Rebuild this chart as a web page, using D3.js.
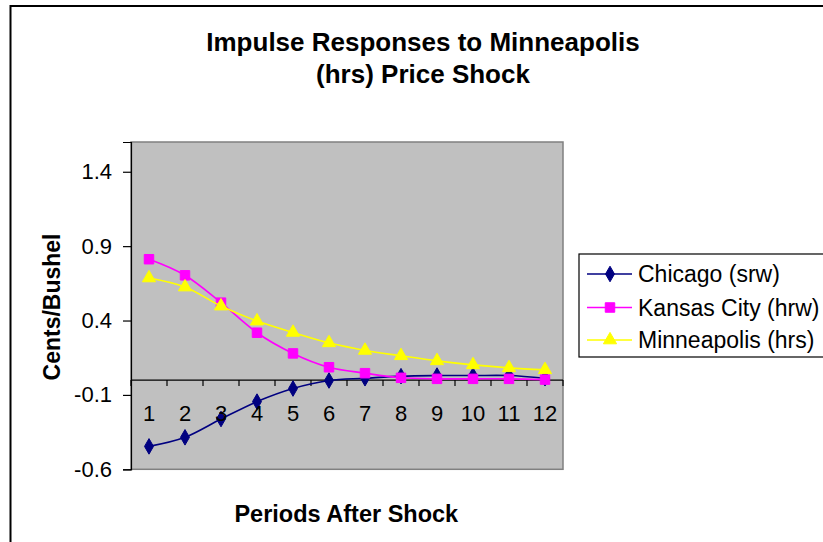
<!DOCTYPE html>
<html>
<head>
<meta charset="utf-8">
<script src="https://cdn.jsdelivr.net/npm/d3@7"></script>
<style>
  html, body { margin: 0; padding: 0; background: #ffffff; }
  svg { display: block; font-family: Arial, "Liberation Sans", sans-serif; }
</style>
</head>
<body>
<svg id="chart" width="823" height="542"></svg>
<script>
// ---- data ----
const periods = [1, 2, 3, 4, 5, 6, 7, 8, 9, 10, 11, 12];
const chicago = [-0.446, -0.385, -0.262, -0.145, -0.057, -0.003, 0.012, 0.026, 0.030, 0.030, 0.030, 0.012];
const kansasCity = [0.812, 0.704, 0.520, 0.318, 0.179, 0.086, 0.046, 0.015, 0.008, 0.008, 0.008, 0.003];
const minneapolis = [0.686, 0.625, 0.497, 0.396, 0.320, 0.250, 0.199, 0.163, 0.129, 0.102, 0.082, 0.069];
const yTicks = [-0.6, -0.1, 0.4, 0.9, 1.4];
const seriesNames = ["Chicago (srw)", "Kansas City (hrw)", "Minneapolis (hrs)"];
const titleLines = ["Impulse Responses to Minneapolis", "(hrs) Price Shock"];
const xTitle = "Periods After Shock";
const yTitle = "Cents/Bushel";

const series = [
  { name: seriesNames[0], values: chicago, color: "#000080", symbol: d3.symbolDiamond, size: 70 },
  { name: seriesNames[1], values: kansasCity, color: "#FF00FF", symbol: d3.symbolSquare, size: 90 },
  { name: seriesNames[2], values: minneapolis, color: "#FFFF00", symbol: d3.symbolTriangle, size: 75 }
];

const svg = d3.select("#chart");

// outer chart border
svg.append("rect").attr("x", 10.5).attr("y", 6).attr("width", 830).attr("height", 560)
  .attr("fill", "#fff").attr("stroke", "#000").attr("stroke-width", 2);

const plot = { left: 131, right: 563, top: 142, bottom: 469.3 };

const x = d3.scaleBand().domain(periods).range([plot.left, plot.right]).paddingInner(0).paddingOuter(0);
const y = d3.scaleLinear().domain([-0.6, 1.6]).range([plot.bottom, plot.top]);

// plot area
svg.append("rect").attr("x", plot.left).attr("y", plot.top)
  .attr("width", plot.right - plot.left).attr("height", plot.bottom - plot.top)
  .attr("fill", "#C0C0C0").attr("stroke", "#808080").attr("stroke-width", 1.5);

// y axis
const yAxis = d3.axisLeft(y).tickValues(yTicks).tickSize(8).tickPadding(11)
  .tickFormat(d => d3.format(".1f")(d).replace("−", "-"));
const gy = svg.append("g").attr("transform", `translate(${plot.left},0)`).call(yAxis);
gy.select(".domain").attr("stroke", "#000").attr("stroke-width", 1.2);
gy.selectAll(".tick line").attr("stroke", "#000").attr("stroke-width", 1.2);
gy.selectAll(".tick text").attr("font-size", "22px").attr("fill", "#000")
  .attr("font-family", "Arial, 'Liberation Sans', sans-serif");

// x axis line at y=0 with boundary ticks
const y0 = y(0);
const gx = svg.append("g");
gx.append("line").attr("x1", plot.left).attr("x2", plot.right).attr("y1", y0).attr("y2", y0)
  .attr("stroke", "#000").attr("stroke-width", 1.2);
const bounds = periods.map(p => x(p)).concat([x(periods[periods.length - 1]) + x.bandwidth()]);
gx.selectAll("line.tk").data(bounds).enter().append("line").attr("class", "tk")
  .attr("x1", d => d).attr("x2", d => d).attr("y1", y0).attr("y2", y0 + 6)
  .attr("stroke", "#000").attr("stroke-width", 1.2);

// lines and markers
const cx = p => x(p) + x.bandwidth() / 2;
const line = d3.line().x((d, i) => cx(periods[i])).y(d => y(d)).curve(d3.curveCardinal.tension(0));

series.forEach(s => {
  svg.append("path").attr("d", line(s.values)).attr("fill", "none")
    .attr("stroke", s.color).attr("stroke-width", 1.6);
  svg.append("g").selectAll("path").data(s.values).enter().append("path")
    .attr("d", d3.symbol().type(s.symbol).size(s.size))
    .attr("transform", (d, i) => `translate(${cx(periods[i])},${y(d)})`)
    .attr("fill", s.color).attr("stroke", s.color).attr("stroke-width", 1);
});

// x tick labels (drawn above the series)
svg.append("g").selectAll("text").data(periods).enter().append("text")
  .attr("x", d => cx(d)).attr("y", 421).attr("text-anchor", "middle")
  .attr("font-size", "22px").attr("fill", "#000").text(d => d);

// title
svg.append("text").attr("x", 423).attr("y", 51).attr("text-anchor", "middle")
  .attr("font-size", "26px").attr("font-weight", "bold").text(titleLines[0]);
svg.append("text").attr("x", 423).attr("y", 83).attr("text-anchor", "middle")
  .attr("font-size", "26px").attr("font-weight", "bold").text(titleLines[1]);

// axis titles
svg.append("text").attr("x", 346.3).attr("y", 521.5).attr("text-anchor", "middle")
  .attr("font-size", "23.5px").attr("font-weight", "bold").text(xTitle);
svg.append("text").attr("transform", "translate(60,307) rotate(-90)").attr("text-anchor", "middle")
  .attr("font-size", "23px").attr("font-weight", "bold").text(yTitle);

// legend
const lg = svg.append("g");
lg.append("rect").attr("x", 579).attr("y", 254).attr("width", 260).attr("height", 103)
  .attr("fill", "#fff").attr("stroke", "#000").attr("stroke-width", 1.2);
const rowsY = [274, 307.5, 340];
series.forEach((s, i) => {
  lg.append("line").attr("x1", 587).attr("x2", 632).attr("y1", rowsY[i]).attr("y2", rowsY[i])
    .attr("stroke", s.color).attr("stroke-width", 1.6);
  lg.append("path").attr("d", d3.symbol().type(s.symbol).size(s.size)())
    .attr("transform", `translate(610,${rowsY[i]})`)
    .attr("fill", s.color).attr("stroke", s.color).attr("stroke-width", 1);
  lg.append("text").attr("x", 638).attr("y", rowsY[i] + 8).attr("font-size", "23px")
    .attr("fill", "#000").text(s.name);
});
</script>
</body>
</html>
